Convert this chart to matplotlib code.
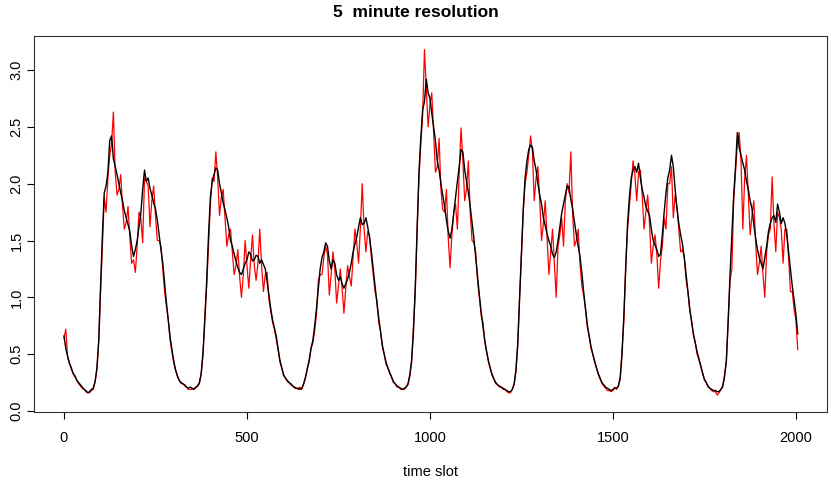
import matplotlib
matplotlib.use("Agg")
import matplotlib.pyplot as plt
import numpy as np

plt.rcParams['font.family'] = ['Liberation Sans', 'DejaVu Sans']

# time slots, one reading every 5 slots
slots = np.arange(0, 2006, 5)

# black series (10 values per row = 50 slots)
black_y = [
    0.66, 0.55, 0.48, 0.42, 0.38, 0.33, 0.31, 0.27, 0.25, 0.23,
    0.21, 0.19, 0.18, 0.16, 0.17, 0.19, 0.20, 0.26, 0.38, 0.62,
    1.10, 1.55, 1.92, 1.98, 2.10, 2.38, 2.42, 2.22, 2.15, 2.08,
    2.00, 1.92, 1.85, 1.76, 1.70, 1.64, 1.58, 1.45, 1.36, 1.42,
    1.50, 1.62, 1.74, 1.95, 2.12, 2.02, 2.05, 1.96, 1.90, 1.83,
    1.78, 1.68, 1.55, 1.42, 1.30, 1.12, 0.95, 0.80, 0.65, 0.54,
    0.44, 0.36, 0.31, 0.27, 0.25, 0.24, 0.23, 0.21, 0.20, 0.21,
    0.20, 0.19, 0.21, 0.22, 0.25, 0.33, 0.52, 0.80, 1.15, 1.55,
    1.88, 2.02, 2.08, 2.14, 2.12, 2.00, 1.92, 1.83, 1.77, 1.70,
    1.62, 1.50, 1.45, 1.38, 1.32, 1.26, 1.22, 1.20, 1.25, 1.30,
    1.33, 1.40, 1.38, 1.32, 1.33, 1.37, 1.36, 1.30, 1.33, 1.29,
    1.25, 1.14, 1.02, 0.90, 0.80, 0.73, 0.66, 0.55, 0.45, 0.38,
    0.32, 0.29, 0.27, 0.25, 0.24, 0.22, 0.21, 0.20, 0.20, 0.19,
    0.20, 0.24, 0.30, 0.37, 0.45, 0.55, 0.62, 0.75, 0.90, 1.08,
    1.25, 1.35, 1.40, 1.48, 1.45, 1.32, 1.25, 1.33, 1.30, 1.20,
    1.15, 1.18, 1.12, 1.08, 1.12, 1.16, 1.22, 1.30, 1.40, 1.47,
    1.53, 1.62, 1.70, 1.64, 1.65, 1.70, 1.62, 1.52, 1.40, 1.25,
    1.10, 0.95, 0.82, 0.70, 0.58, 0.50, 0.43, 0.38, 0.34, 0.30,
    0.26, 0.24, 0.22, 0.21, 0.20, 0.19, 0.20, 0.21, 0.24, 0.32,
    0.45, 0.70, 1.10, 1.60, 2.10, 2.40, 2.65, 2.72, 2.92, 2.80,
    2.75, 2.62, 2.50, 2.38, 2.20, 2.12, 2.00, 1.90, 1.80, 1.68,
    1.58, 1.52, 1.60, 1.74, 1.88, 2.02, 2.15, 2.30, 2.28, 2.12,
    2.02, 1.92, 1.80, 1.66, 1.52, 1.35, 1.18, 1.02, 0.87, 0.74,
    0.62, 0.52, 0.44, 0.37, 0.32, 0.28, 0.25, 0.23, 0.22, 0.21,
    0.20, 0.19, 0.18, 0.17, 0.17, 0.19, 0.24, 0.36, 0.60, 1.00,
    1.42, 1.78, 2.05, 2.20, 2.30, 2.34, 2.32, 2.20, 2.12, 2.00,
    1.90, 1.82, 1.70, 1.63, 1.56, 1.50, 1.45, 1.38, 1.35, 1.40,
    1.50, 1.62, 1.74, 1.82, 1.90, 1.98, 1.97, 1.86, 1.78, 1.66,
    1.55, 1.45, 1.36, 1.22, 1.05, 0.90, 0.76, 0.66, 0.57, 0.50,
    0.44, 0.38, 0.33, 0.29, 0.25, 0.23, 0.21, 0.20, 0.19, 0.18,
    0.19, 0.20, 0.20, 0.22, 0.30, 0.50, 0.85, 1.25, 1.65, 1.88,
    2.05, 2.12, 2.15, 2.10, 2.18, 2.05, 1.95, 1.88, 1.80, 1.76,
    1.72, 1.60, 1.50, 1.46, 1.42, 1.36, 1.38, 1.55, 1.75, 1.92,
    2.05, 2.12, 2.25, 2.15, 1.95, 1.78, 1.65, 1.55, 1.47, 1.35,
    1.20, 1.05, 0.90, 0.78, 0.68, 0.60, 0.52, 0.46, 0.40, 0.33,
    0.28, 0.25, 0.22, 0.20, 0.19, 0.18, 0.18, 0.17, 0.17, 0.19,
    0.22, 0.30, 0.45, 0.80, 1.20, 1.55, 1.90, 2.15, 2.45, 2.32,
    2.25, 2.18, 2.12, 2.02, 1.95, 1.85, 1.78, 1.64, 1.52, 1.42,
    1.35, 1.30, 1.25, 1.35, 1.45, 1.58, 1.65, 1.70, 1.72, 1.66,
    1.82, 1.75, 1.65, 1.70, 1.65, 1.55, 1.40, 1.25, 1.10, 0.98,
    0.85, 0.68,
]

# red series, same slots, noisier
red_y = [
    0.64, 0.72, 0.47, 0.42, 0.37, 0.33, 0.30, 0.27, 0.24, 0.22,
    0.20, 0.19, 0.17, 0.16, 0.16, 0.18, 0.19, 0.26, 0.36, 0.62,
    1.05, 1.45, 1.88, 1.75, 2.05, 2.25, 2.35, 2.63, 2.10, 1.90,
    1.95, 2.08, 1.80, 1.60, 1.66, 1.80, 1.52, 1.30, 1.33, 1.22,
    1.45, 1.75, 1.70, 1.48, 2.05, 2.02, 1.98, 1.62, 1.85, 1.98,
    1.72, 1.50, 1.50, 1.45, 1.25, 1.05, 0.92, 0.80, 0.62, 0.52,
    0.42, 0.36, 0.30, 0.27, 0.24, 0.24, 0.22, 0.21, 0.19, 0.19,
    0.19, 0.20, 0.20, 0.22, 0.24, 0.33, 0.50, 0.85, 1.10, 1.45,
    1.82, 2.05, 2.02, 2.28, 2.05, 1.72, 1.88, 1.95, 1.70, 1.45,
    1.55, 1.60, 1.40, 1.20, 1.28, 1.42, 1.18, 1.00, 1.20, 1.50,
    1.28, 1.08, 1.33, 1.55, 1.28, 1.15, 1.30, 1.60, 1.28, 1.05,
    1.20, 1.22, 0.98, 0.88, 0.78, 0.72, 0.63, 0.54, 0.43, 0.38,
    0.31, 0.29, 0.26, 0.25, 0.23, 0.22, 0.20, 0.20, 0.19, 0.21,
    0.19, 0.24, 0.29, 0.38, 0.43, 0.55, 0.60, 0.70, 0.86, 1.15,
    1.20, 1.20, 1.35, 1.45, 1.38, 1.02, 1.20, 1.40, 1.25, 0.95,
    1.10, 1.25, 1.08, 0.86, 1.08, 1.28, 1.18, 1.10, 1.35, 1.60,
    1.48, 1.30, 1.62, 2.00, 1.60, 1.40, 1.58, 1.55, 1.35, 1.20,
    1.05, 0.98, 0.78, 0.70, 0.56, 0.50, 0.41, 0.38, 0.33, 0.30,
    0.25, 0.24, 0.21, 0.21, 0.19, 0.19, 0.19, 0.21, 0.23, 0.30,
    0.43, 0.75, 1.05, 1.60, 2.05, 2.35, 2.60, 3.18, 2.85, 2.50,
    2.70, 2.80, 2.45, 2.10, 2.15, 2.40, 1.95, 1.77, 1.75, 1.95,
    1.52, 1.26, 1.55, 1.75, 1.82, 1.60, 2.10, 2.49, 2.20, 1.85,
    1.95, 2.20, 1.75, 1.50, 1.48, 1.40, 1.15, 1.00, 0.84, 0.78,
    0.60, 0.52, 0.43, 0.38, 0.31, 0.28, 0.24, 0.23, 0.21, 0.21,
    0.19, 0.19, 0.17, 0.16, 0.16, 0.19, 0.23, 0.35, 0.58, 1.00,
    1.38, 1.75, 2.00, 2.10, 2.25, 2.42, 2.28, 1.85, 2.05, 2.15,
    1.85, 1.50, 1.65, 1.85, 1.52, 1.20, 1.40, 1.60, 1.30, 1.00,
    1.45, 1.55, 1.70, 1.45, 1.85, 2.00, 1.92, 2.28, 1.72, 1.45,
    1.50, 1.60, 1.30, 1.10, 1.02, 0.90, 0.74, 0.66, 0.55, 0.50,
    0.43, 0.38, 0.32, 0.28, 0.24, 0.22, 0.20, 0.18, 0.18, 0.17,
    0.18, 0.21, 0.19, 0.22, 0.28, 0.55, 0.80, 1.30, 1.60, 1.80,
    2.00, 2.20, 2.08, 1.85, 2.10, 2.12, 1.90, 1.60, 1.75, 1.90,
    1.65, 1.30, 1.45, 1.55, 1.38, 1.08, 1.32, 1.45, 1.70, 1.60,
    2.00, 2.00, 2.15, 1.70, 1.90, 1.80, 1.60, 1.40, 1.42, 1.35,
    1.15, 1.05, 0.88, 0.80, 0.66, 0.60, 0.50, 0.45, 0.39, 0.34,
    0.27, 0.25, 0.21, 0.20, 0.18, 0.17, 0.17, 0.14, 0.16, 0.19,
    0.21, 0.32, 0.43, 0.80, 1.15, 1.25, 1.85, 2.10, 2.35, 2.45,
    2.20, 1.60, 2.05, 2.25, 1.90, 1.55, 1.72, 1.85, 1.48, 1.20,
    1.30, 1.45, 1.20, 1.00, 1.40, 1.55, 1.60, 2.06, 1.65, 1.40,
    1.75, 1.70, 1.60, 1.30, 1.60, 1.60, 1.35, 1.05, 1.05, 0.90,
    0.80, 0.54,
]

x_ticks = [0, 500, 1000, 1500, 2000]
y_ticks = [0.0, 0.5, 1.0, 1.5, 2.0, 2.5, 3.0]

fig = plt.figure(figsize=(8.31, 4.82), dpi=100)
ax = fig.add_axes([0.0415, 0.1452, 0.9537, 0.780])

ax.plot(slots, red_y, color='red', lw=0.9)
ax.plot(slots, black_y, color='black', lw=1.0)

ax.set_xlim(-80.6, 2085)
ax.set_ylim(-0.009, 3.299)
ax.set_xticks(x_ticks)
ax.set_xticklabels([str(t) for t in x_ticks])
ax.set_yticks(y_ticks)
ax.set_yticklabels(['%.1f' % t for t in y_ticks], rotation=90, va='center')
ax.tick_params(direction='out', length=5, width=0.8, labelsize=10.5)
ax.tick_params(axis='x', pad=9)
ax.tick_params(axis='y', pad=3)
for s in ax.spines.values():
    s.set_linewidth(0.8)
    s.set_color('#333333')

ax.set_xlabel('time slot', fontsize=10.5, labelpad=14)
fig.suptitle('5  minute resolution', fontsize=12.5, fontweight='bold', y=0.99)

fig.savefig('out.png', dpi=100)
